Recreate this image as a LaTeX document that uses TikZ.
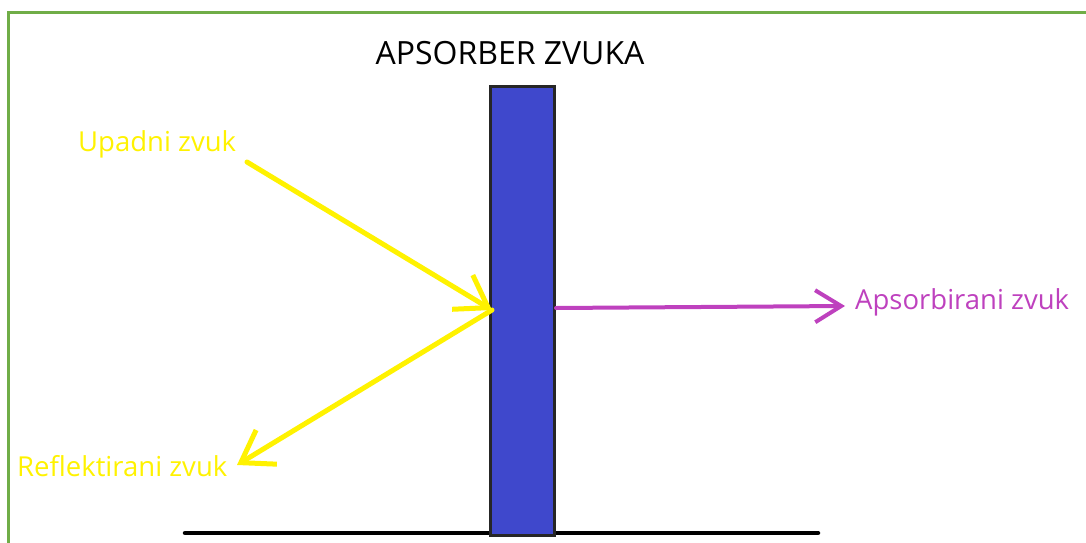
\documentclass[tikz,border=0pt]{standalone}
\usepackage{fontspec}
\setmainfont{Open Sans}
\usetikzlibrary{arrows.meta}
\definecolor{paintyellow}{RGB}{255,242,0}
\definecolor{paintblue}{RGB}{63,72,204}
\definecolor{paintpurple}{RGB}{190,65,190}
\definecolor{framegreen}{RGB}{112,173,71}
\tikzstyle{block} = [draw=black!85, fill=paintblue, rectangle, line width=3pt, minimum width=64pt, minimum height=449pt, inner sep=0pt]
\tikzstyle{invis} = [draw=none, inner sep=0pt]
\tikzstyle{ray} = [-{Straight Barb[length=30pt,width=40pt]}, draw=paintyellow, line width=5pt, line cap=round, line join=round]
\tikzstyle{absray} = [-{Straight Barb[length=26pt,width=32pt]}, draw=paintpurple, line width=4pt, line cap=round, line join=round]
\tikzstyle{ground} = [-, draw=black, line width=4.5pt, line cap=round]

\begin{document}
\begin{tikzpicture}[x=1pt,y=-1pt]

\useasboundingbox (0,0) rectangle (1086,543);
\clip (0,0) rectangle (1086,543);
\draw[framegreen, line width=3pt] (8,13) rectangle (1110,570);

\coordinate (g0) at (185,533);
\coordinate (g1) at (818,533);
\path (g0) edge [ground] (g1);

\node[block] (abs) at (522,310.5) {};
\node[invis, anchor=base, font=\fontsize{32}{36}\selectfont] (title) at (510,64) {APSORBER ZVUKA};

\node[invis, anchor=base west, text=paintyellow, font=\fontsize{27.5}{32}\selectfont] (upadni) at (78,151) {Upadni zvuk};
\node[invis, anchor=base west, text=paintyellow, font=\fontsize{27.5}{32}\selectfont] (refl) at (17,476) {Reflektirani zvuk};
\node[invis, anchor=base west, text=paintpurple, font=\fontsize{27.5}{32}\selectfont] (apsorb) at (855,309) {Apsorbirani zvuk};

\coordinate (inStart) at (247,162);
\coordinate (hit) at (492,310);
\coordinate (reflEnd) at (237,465);
\coordinate (absStart) at (556,308);
\coordinate (absEnd) at (845,306);

\path
(inStart) edge [ray] (hit)
(hit) edge [ray] (reflEnd)
(absStart) edge [absray] (absEnd);

\end{tikzpicture}
\end{document}
